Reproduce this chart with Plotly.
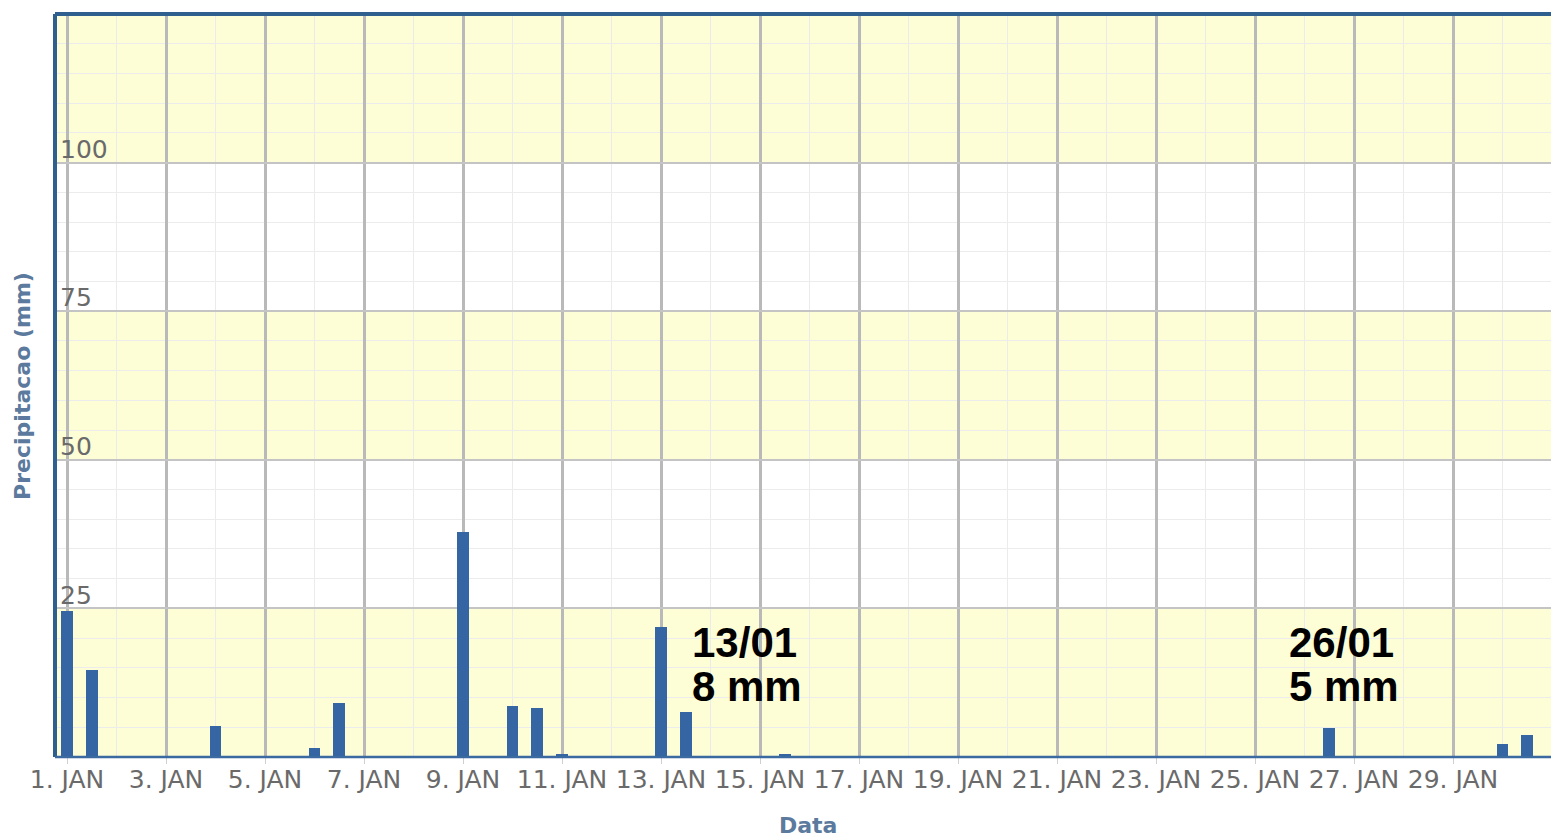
import plotly.graph_objects as go

# ---- data ----
dates = [
    "2016-01-01 00:00", "2016-01-01 12:00", "2016-01-04 00:00", "2016-01-06 00:00",
    "2016-01-06 12:00", "2016-01-09 00:00", "2016-01-10 00:00", "2016-01-10 12:00",
    "2016-01-11 00:00", "2016-01-13 00:00", "2016-01-13 12:00", "2016-01-15 12:00",
    "2016-01-26 12:00", "2016-01-30 00:00", "2016-01-30 12:00",
]
precip_mm = [24.5, 14.6, 5.2, 1.5, 9.1, 37.8, 8.6, 8.2, 0.5, 21.8, 7.6, 0.5, 4.9, 2.2, 3.7]

tick_dates = ["2016-01-%02d" % d for d in range(1, 30, 2)]
tick_labels = ["%d. JAN" % d for d in range(1, 30, 2)]
y_ticks = [25, 50, 75, 100]

band_ranges = [(0, 25), (50, 75), (100, 125)]

notes = [
    ("13/01", "8 mm", 0.4245),
    ("26/01", "5 mm", 0.8235),
]

DAY_MS = 86400000
Y_RANGE = [0, 125]
X_RANGE = ["2015-12-31 18:11", "2016-01-30 23:30"]

fig = go.Figure()
fig.add_trace(go.Bar(
    x=dates, y=precip_mm,
    width=0.24 * DAY_MS,
    marker=dict(color="#3566a3", line=dict(width=0)),
    showlegend=False,
))
# invisible carrier trace so the label axis (y2) is drawn on its own subplot
fig.add_trace(go.Scatter(
    x=dates, y=precip_mm, xaxis="x2", yaxis="y2", mode="markers",
    marker=dict(opacity=0), hoverinfo="skip", showlegend=False,
))

shapes = []
for y0, y1 in band_ranges:
    shapes.append(dict(type="rect", xref="paper", yref="y", x0=0, x1=1, y0=y0, y1=y1,
                       fillcolor="#fdfdd6", line=dict(width=0), layer="below"))
# frame lines
shapes.append(dict(type="line", xref="paper", yref="paper", x0=0, x1=0, y0=0, y1=1,
                   line=dict(color="#2f5f8e", width=4), layer="above"))
shapes.append(dict(type="line", xref="paper", yref="paper", x0=0, x1=1, y0=1, y1=1,
                   line=dict(color="#2f5f8e", width=4), layer="above"))
shapes.append(dict(type="line", xref="paper", yref="paper", x0=0, x1=1, y0=0, y1=0,
                   line=dict(color="#3a6aa0", width=2.5), layer="above"))

annotations = []
for l1, l2, xp in notes:
    annotations.append(dict(text=l1, xref="paper", yref="y", x=xp, y=19.3, xanchor="left",
                            yanchor="middle", showarrow=False,
                            font=dict(family="Liberation Sans, Arial", size=42, color="black", weight="bold")))
    annotations.append(dict(text=l2, xref="paper", yref="y", x=xp, y=11.9, xanchor="left",
                            yanchor="middle", showarrow=False,
                            font=dict(family="Liberation Sans, Arial", size=42, color="black", weight="bold")))

annotations.append(dict(text="Precipitacao (mm)", xref="paper", yref="paper",
                        x=-0.0218, y=0.5, xanchor="center", yanchor="middle", textangle=-90,
                        showarrow=False,
                        font=dict(family="DejaVu Sans", size=22, color="#5b7a9d", weight="bold")))
annotations.append(dict(text="Data", xref="paper", yref="paper",
                        x=0.5034, y=-0.092, xanchor="center", yanchor="middle",
                        showarrow=False,
                        font=dict(family="DejaVu Sans", size=22, color="#5b7a9d", weight="bold")))

fig.update_layout(
    width=1551, height=838,
    margin=dict(l=55, r=0, t=14, b=81, autoexpand=False),
    paper_bgcolor="white",
    plot_bgcolor="white",
    shapes=shapes,
    annotations=annotations,
    bargap=0,
    xaxis=dict(
        type="date", range=X_RANGE,
        tickvals=tick_dates, ticktext=tick_labels,
        tickfont=dict(family="DejaVu Sans", size=25, color="#6a6a6a"),
        ticklabeloverflow="allow",
        ticklabelstandoff=-6,
        showgrid=True, gridcolor="#b9b9b9", gridwidth=3,
        ticks="outside", ticklen=6, tickcolor="#d0d0d0",
        showline=False, zeroline=False,
        minor=dict(dtick=DAY_MS, tick0="2016-01-01", showgrid=True, gridcolor="#ebebeb", gridwidth=1),
    ),
    xaxis2=dict(
        type="date", range=X_RANGE, overlaying="x", anchor="y2",
        showgrid=False, showticklabels=False, ticks="", showline=False, zeroline=False,
    ),
    yaxis=dict(
        range=Y_RANGE,
        tickvals=y_ticks,
        showticklabels=False,
        showgrid=True, gridcolor="#c4c4c4", gridwidth=2,
        zeroline=False, showline=False,
        minor=dict(dtick=5, showgrid=True, gridcolor="#ececec", gridwidth=1),
    ),
    yaxis2=dict(
        range=Y_RANGE,
        overlaying="y", anchor="x2", side="left",
        tickvals=y_ticks,
        ticklabelposition="inside top",
        ticklabelshift=4,
        ticklabelstandoff=2,
        tickfont=dict(family="DejaVu Sans", size=25, color="#6a6a6a"),
        showgrid=False, zeroline=False, showline=False,
    ),
)

fig.write_html("out.html", config={"displayModeBar": False},
               post_script="document.body.style.margin='0';document.body.style.overflow='hidden';")
